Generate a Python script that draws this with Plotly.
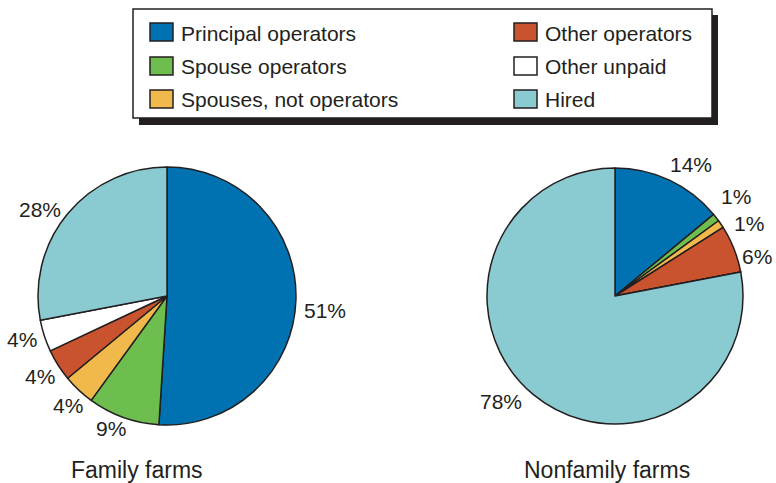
import math
import plotly.graph_objects as go

# Share of farm labor hours by worker type
categories = ["Principal operators", "Spouse operators", "Spouses, not operators",
              "Other operators", "Other unpaid", "Hired"]
family_pct = [51, 9, 4, 4, 4, 28]
nonfamily_pct = [14, 1, 1, 6, 0, 78]
titles = ["Family farms", "Nonfamily farms"]

colors = ["#0072b1", "#6dbe4f", "#f1b94c", "#c9532f", "#ffffff", "#89cbd1"]
ink = "#231f20"
font = "Liberation Sans, Arial, sans-serif"

W, H = 776, 483


def px(x):
    return x / W


def py(y):
    return 1 - y / H


# pie geometry in pixels: (center x, center y, radius)
pies = [(167, 296, 129), (615, 296, 128)]
title_x = [137, 607]
# small hand nudges (px) for percent labels so they don't crowd
nudges = [
    [(8, 10), (-5, -9), (4, 0), (0, 0), (-2, -3), (-11, 9)],
    [(13, 3), (3, -8), (11, 11), (3, 15), (0, 0), (-19, -9)],
]

fig = go.Figure()
annotations = []
for i, (vals, (cx, cy, r)) in enumerate(zip([family_pct, nonfamily_pct], pies)):
    fig.add_trace(go.Pie(
        labels=categories, values=vals, sort=False, direction="clockwise",
        rotation=0, textinfo="none", hoverinfo="label+percent",
        marker=dict(colors=colors, line=dict(color=ink, width=1.5)),
        domain=dict(x=[px(cx - r), px(cx + r)], y=[py(cy + r), py(cy - r)]),
        showlegend=False,
    ))
    total = sum(vals)
    cum = 0
    for j, v in enumerate(vals):
        if v > 0:
            mid = (cum + v / 2) / total * 2 * math.pi
            R = r + 21
            lx = cx + R * math.sin(mid) + nudges[i][j][0]
            ly = cy - R * math.cos(mid) + nudges[i][j][1]
            annotations.append(dict(
                x=px(lx), y=py(ly), xref="paper", yref="paper", text=f"{v}%",
                showarrow=False, xanchor="center", yanchor="middle",
                font=dict(family=font, size=21, color=ink)))
        cum += v
    annotations.append(dict(
        x=px(title_x[i]), y=py(470), xref="paper", yref="paper",
        text=titles[i], showarrow=False, xanchor="center", yanchor="middle",
        font=dict(family=font, size=23, color=ink)))

# legend box with drop shadow
shapes = [
    dict(type="rect", xref="paper", yref="paper", x0=px(139), x1=px(718),
         y0=py(125), y1=py(15), fillcolor=ink, line=dict(width=0), layer="above"),
    dict(type="rect", xref="paper", yref="paper", x0=px(133), x1=px(712),
         y0=py(118), y1=py(9), fillcolor="white", line=dict(color=ink, width=1.5),
         layer="above"),
]
legend_cols = [(150, 179), (514, 543)]
legend_rows = [32, 66, 99]
order = [(0, 0), (0, 1), (0, 2), (1, 0), (1, 1), (1, 2)]
for k, (c, rw) in enumerate(order):
    sx, tx = legend_cols[c]
    yc = legend_rows[rw]
    shapes.append(dict(type="rect", xref="paper", yref="paper",
                       x0=px(sx), x1=px(sx + 23), y0=py(yc + 9), y1=py(yc - 9),
                       fillcolor=colors[k], line=dict(color=ink, width=1.5),
                       layer="above"))
    annotations.append(dict(
        x=px(tx), y=py(yc + 1), xref="paper", yref="paper", text=categories[k],
        showarrow=False, xanchor="left", yanchor="middle",
        font=dict(family=font, size=21, color=ink)))

fig.update_layout(
    width=W, height=H, margin=dict(l=0, r=0, t=0, b=0),
    paper_bgcolor="white", plot_bgcolor="white",
    shapes=shapes, annotations=annotations,
)
fig.write_html("out.html")
